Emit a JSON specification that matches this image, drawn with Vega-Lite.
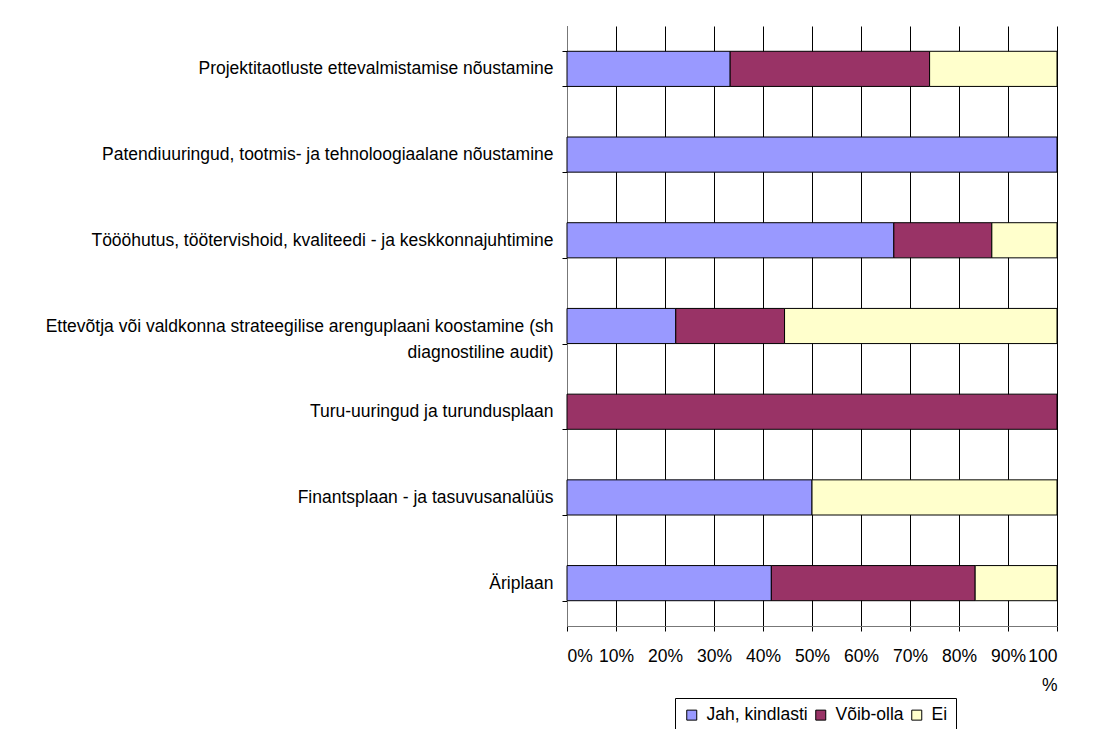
{
  "$schema": "https://vega.github.io/schema/vega-lite/v6.json",
  "width": 490,
  "height": 600,
  "autosize": "none",
  "padding": {"left": 567, "top": 26, "right": 43, "bottom": 103},
  "background": "white",
  "data": {
    "values": [
      {"category": "Projektitaotluste ettevalmistamise nõustamine", "answer": "Jah, kindlasti", "rank": 1, "share": 33.3},
      {"category": "Projektitaotluste ettevalmistamise nõustamine", "answer": "Võib-olla", "rank": 2, "share": 40.7},
      {"category": "Projektitaotluste ettevalmistamise nõustamine", "answer": "Ei", "rank": 3, "share": 26.0},
      {"category": "Patendiuuringud, tootmis- ja tehnoloogiaalane nõustamine", "answer": "Jah, kindlasti", "rank": 1, "share": 100},
      {"category": "Töööhutus, töötervishoid, kvaliteedi - ja keskkonnajuhtimine", "answer": "Jah, kindlasti", "rank": 1, "share": 66.7},
      {"category": "Töööhutus, töötervishoid, kvaliteedi - ja keskkonnajuhtimine", "answer": "Võib-olla", "rank": 2, "share": 20.0},
      {"category": "Töööhutus, töötervishoid, kvaliteedi - ja keskkonnajuhtimine", "answer": "Ei", "rank": 3, "share": 13.3},
      {"category": "Ettevõtja või valdkonna strateegilise arenguplaani koostamine (sh diagnostiline audit)", "answer": "Jah, kindlasti", "rank": 1, "share": 22.2},
      {"category": "Ettevõtja või valdkonna strateegilise arenguplaani koostamine (sh diagnostiline audit)", "answer": "Võib-olla", "rank": 2, "share": 22.2},
      {"category": "Ettevõtja või valdkonna strateegilise arenguplaani koostamine (sh diagnostiline audit)", "answer": "Ei", "rank": 3, "share": 55.6},
      {"category": "Turu-uuringud ja turundusplaan", "answer": "Võib-olla", "rank": 2, "share": 100},
      {"category": "Finantsplaan - ja tasuvusanalüüs", "answer": "Jah, kindlasti", "rank": 1, "share": 50},
      {"category": "Finantsplaan - ja tasuvusanalüüs", "answer": "Ei", "rank": 3, "share": 50},
      {"category": "Äriplaan", "answer": "Jah, kindlasti", "rank": 1, "share": 41.7},
      {"category": "Äriplaan", "answer": "Võib-olla", "rank": 2, "share": 41.6},
      {"category": "Äriplaan", "answer": "Ei", "rank": 3, "share": 16.7}
    ]
  },
  "transform": [
    {"stack": "share", "groupby": ["category"], "sort": [{"field": "rank", "order": "ascending"}], "offset": "normalize", "as": ["x_start", "x_end"]}
  ],
  "mark": {"type": "bar", "stroke": "black", "strokeWidth": 1},
  "encoding": {
    "y": {
      "field": "category",
      "type": "nominal",
      "sort": null,
      "title": null,
      "scale": {"paddingInner": 0.59, "paddingOuter": 0.295},
      "axis": {
        "tickBand": "extent",
        "tickSize": 5,
        "tickColor": "#000",
        "domainColor": "#777",
        "labelLimit": 600,
        "labelLineHeight": 26,
        "labelPadding": 9,
        "labelExpr": "indexof(datum.label, 'Ettevõtja') == 0 ? ['Ettevõtja või valdkonna strateegilise arenguplaani koostamine (sh', 'diagnostiline audit)\u00a0\u00a0\u00a0\u00a0\u00a0\u00a0\u00a0\u00a0\u00a0\u00a0\u00a0\u00a0\u00a0\u00a0\u00a0\u00a0\u00a0\u00a0\u00a0\u00a0\u00a0\u00a0\u00a0\u00a0\u00a0\u00a0\u00a0\u00a0\u00a0\u00a0\u00a0\u00a0\u00a0\u00a0\u00a0\u00a0\u00a0'] : datum.label"
      }
    },
    "x": {
      "field": "x_start",
      "type": "quantitative",
      "title": null,
      "scale": {"domain": [0, 1]},
      "axis": {
        "values": [0, 0.1, 0.2, 0.3, 0.4, 0.5, 0.6, 0.7, 0.8, 0.9, 1],
        "labelExpr": "datum.value == 1 ? ['100', '%'] : format(datum.value, '.0%')",
        "labelLineHeight": 29,
        "labelPadding": 16,
        "tickSize": 5,
        "tickColor": "#000",
        "domainColor": "#777",
        "grid": true,
        "gridColor": "#000",
        "gridOpacity": 1,
        "gridWidth": 1
      }
    },
    "x2": {"field": "x_end"},
    "color": {
      "field": "answer",
      "type": "nominal",
      "sort": ["Jah, kindlasti", "Võib-olla", "Ei"],
      "scale": {"domain": ["Jah, kindlasti", "Võib-olla", "Ei"], "range": ["#9999FF", "#993366", "#FFFFCC"]},
      "legend": {
        "title": null,
        "orient": "none",
        "direction": "horizontal",
        "legendX": 108,
        "legendY": 672,
        "strokeColor": "black",
        "fillColor": "white",
        "padding": 8,
        "symbolType": "square",
        "symbolSize": 100,
        "symbolStrokeColor": "black",
        "symbolStrokeWidth": 1,
        "symbolOpacity": 1,
        "labelOffset": 6,
        "columnPadding": 4
      }
    }
  },
  "config": {
    "view": {"stroke": null},
    "font": "Liberation Sans",
    "axis": {"labelFont": "Liberation Sans", "labelFontSize": 17.5, "labelColor": "#000", "domainWidth": 1, "tickWidth": 1},
    "legend": {"labelFont": "Liberation Sans", "labelFontSize": 17.5, "labelColor": "#000"}
  }
}
